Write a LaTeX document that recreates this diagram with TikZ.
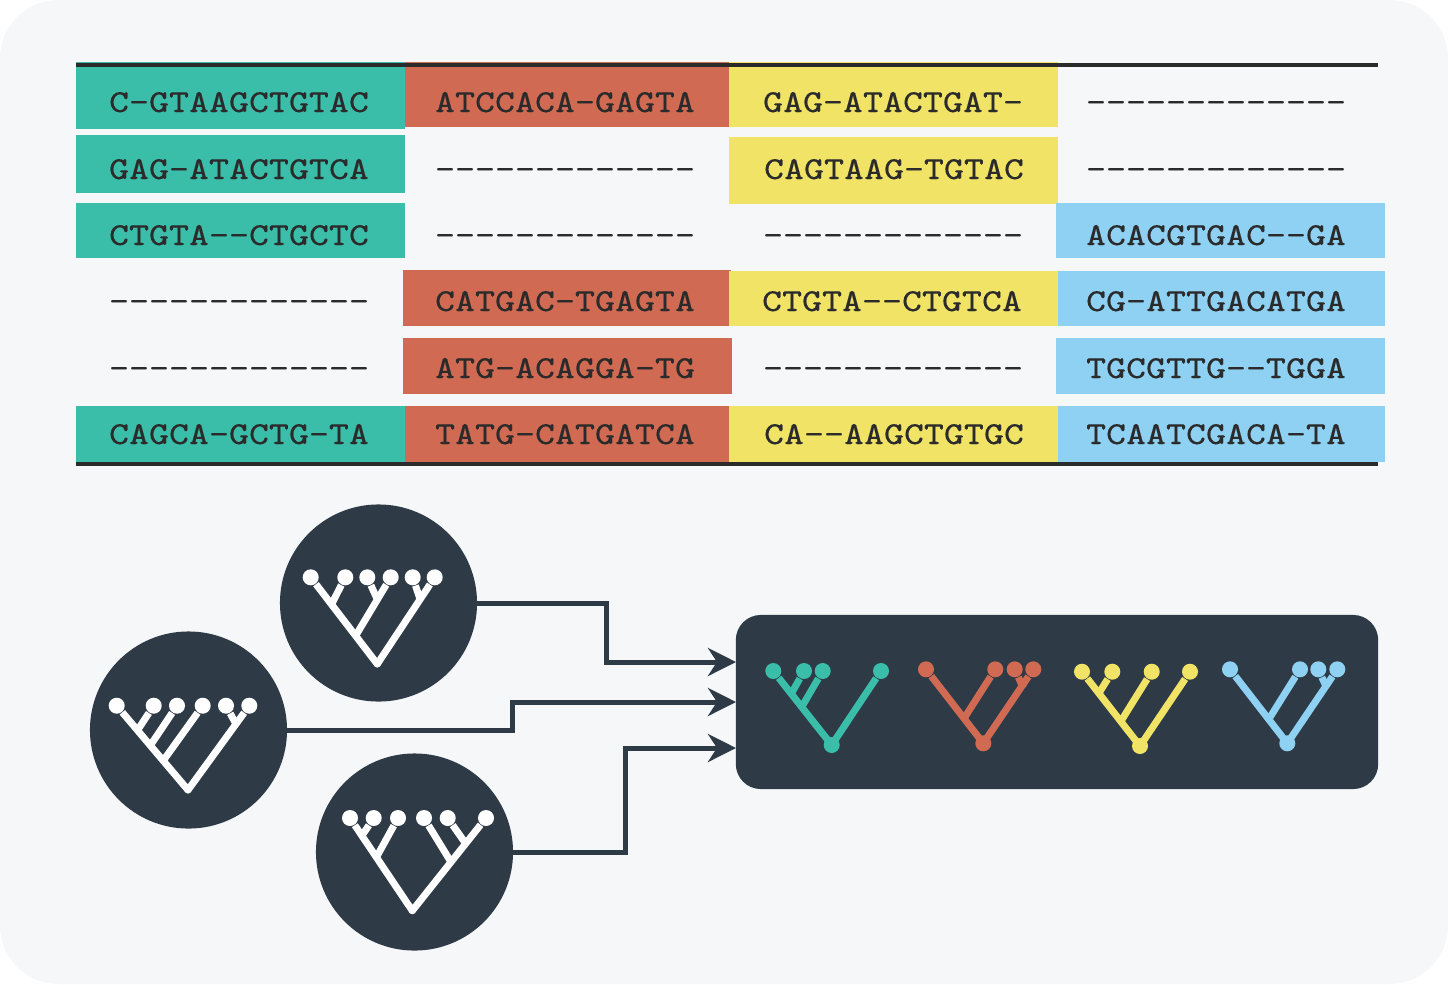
\documentclass[tikz,border=0pt]{standalone}
\usepackage{fontspec}
\usetikzlibrary{arrows.meta}
\newfontfamily\seqfont{Latin Modern Mono}[FakeStretch=1.19,FakeBold=.2]
\definecolor{pagebg}{HTML}{F5F7F9}
\definecolor{inkdark}{HTML}{2B2B2B}
\definecolor{slate}{HTML}{2E3B46}
\definecolor{seqteal}{HTML}{3ABDA9}
\definecolor{seqred}{HTML}{D06A53}
\definecolor{seqyellow}{HTML}{F0E366}
\definecolor{seqblue}{HTML}{8FD1F3}
\tikzset{
    seq/.style={anchor=base,inner sep=0pt,text=inkdark,font=\seqfont\fontsize{9.1pt}{11pt}\selectfont},
    disc/.style={circle,fill=slate,inner sep=0pt,outer sep=0pt,minimum size=1.97cm},
    panel/.style={rectangle,fill=slate,rounded corners=.25cm,inner sep=0pt,minimum width=6.42cm,minimum height=1.74cm},
    link/.style={draw=slate,line width=.05cm,-{Stealth[length=.28cm,width=.28cm,inset=.09cm]}},
    tip/.style={circle,fill=#1,inner sep=0pt,minimum size=.16cm},
    base/.style={circle,fill=#1,inner sep=0pt,minimum size=.16cm},
    limb/.style={draw=#1,line width=.07cm,line join=round}
}
\begin{document}
\begin{tikzpicture}[x=.01cm,y=-.01cm]
                \useasboundingbox (0,0) rectangle (1448,984);
                \fill [pagebg,rounded corners=.58cm] (0,0) rectangle (1448,984);
                \fill [seqteal] (76,62) rectangle (405,129);
                \fill [seqteal] (76,135) rectangle (405,193);
                \fill [seqteal] (76,203) rectangle (405,258);
                \fill [seqteal] (76,406) rectangle (405,462);
                \fill [seqred] (405,62) rectangle (729,127);
                \fill [seqred] (403,270) rectangle (731,326);
                \fill [seqred] (403,338) rectangle (732,394);
                \fill [seqred] (405,406) rectangle (729,462);
                \fill [seqyellow] (729,62) rectangle (1058,127);
                \fill [seqyellow] (729,137) rectangle (1058,204);
                \fill [seqyellow] (729,271) rectangle (1058,326);
                \fill [seqyellow] (729,406) rectangle (1058,462);
                \fill [seqblue] (1056,203) rectangle (1385,258);
                \fill [seqblue] (1058,271) rectangle (1385,326);
                \fill [seqblue] (1056,338) rectangle (1385,394);
                \fill [seqblue] (1058,406) rectangle (1385,462);
                \draw [inkdark,line width=.04cm] (76,65) -- (1378,65);
                \draw [inkdark,line width=.04cm] (76,464) -- (1378,464);
                \node [seq] (s11) at (239,112) {C-GTAAGCTGTAC};
                \node [seq] (s12) at (565,112) {ATCCACA-GAGTA};
                \node [seq] (s13) at (893,112) {GAG-ATACTGAT-};
                \node [seq] (s14) at (1216,112) {-------------};
                \node [seq] (s21) at (239,179) {GAG-ATACTGTCA};
                \node [seq] (s22) at (565,179) {-------------};
                \node [seq] (s23) at (894,179) {CAGTAAG-TGTAC};
                \node [seq] (s24) at (1216,179) {-------------};
                \node [seq] (s31) at (239,245) {CTGTA--CTGCTC};
                \node [seq] (s32) at (565,245) {-------------};
                \node [seq] (s33) at (893,245) {-------------};
                \node [seq] (s34) at (1216,245) {ACACGTGAC--GA};
                \node [seq] (s41) at (239,311) {-------------};
                \node [seq] (s42) at (565,311) {CATGAC-TGAGTA};
                \node [seq] (s43) at (892,311) {CTGTA--CTGTCA};
                \node [seq] (s44) at (1216,311) {CG-ATTGACATGA};
                \node [seq] (s51) at (239,378) {-------------};
                \node [seq] (s52) at (565,378) {ATG-ACAGGA-TG};
                \node [seq] (s53) at (893,378) {-------------};
                \node [seq] (s54) at (1216,378) {TGCGTTG--TGGA};
                \node [seq] (s61) at (239,444) {CAGCA-GCTG-TA};
                \node [seq] (s62) at (565,444) {TATG-CATGATCA};
                \node [seq] (s63) at (894,444) {CA--AAGCTGTGC};
                \node [seq] (s64) at (1216,444) {TCAATCGACA-TA};
                \node [disc] (treea) at (378.5,603) {};
                \node [disc] (treeb) at (188.5,730) {};
                \node [disc] (treec) at (414.5,852) {};
                \node [panel] (genes) at (1057,702) {};
                \coordinate (benda) at (606,662);
                \coordinate (bendb) at (512,702);
                \coordinate (bendc) at (625,748);
                \coordinate (ina) at (736,662);
                \coordinate (inb) at (736,702);
                \coordinate (inc) at (736,748);
                \draw [link] (treea.east) -| (benda) -- (ina);
                \draw [link] (treeb.east) -| (bendb) -- (inb);
                \draw [link] (treec.east) -| (bendc) -- (inc);
                \path (310.7,577.3) node [tip=white] (a1) {} (345.3,577.3) node [tip=white] (a2) {} (367.3,577.3) node [tip=white] (a3) {}
                    (390.7,577.3) node [tip=white] (a4) {} (412.7,577.3) node [tip=white] (a5) {} (434.7,577.3) node [tip=white] (a6) {}
                    (377.3,664) node [base=white,minimum size=.07cm] (ar) {};
                \path (331.7,604) coordinate (aj2) (356.7,634) coordinate (aj4) (376.7,598) coordinate (aj3) (420,599) coordinate (aj5);
                \draw [limb=white] (a1) -- (ar.center) -- (a6);
                \draw [limb=white] (a2) -- (aj2);
                \draw [limb=white] (a4) -- (aj4);
                \draw [limb=white] (a3) -- (aj3);
                \draw [limb=white] (a5) -- (aj5);
                \path (116.7,705.7) node [tip=white] (b1) {} (153.7,705.7) node [tip=white] (b2) {} (177,705.7) node [tip=white] (b3) {}
                    (202.7,705.7) node [tip=white] (b4) {} (226,705.7) node [tip=white] (b5) {} (249.3,705.7) node [tip=white] (b6) {}
                    (188,790) node [base=white,minimum size=.07cm] (br) {};
                \path (137,731) coordinate (bj2) (150,746) coordinate (bj3) (163,761) coordinate (bj4) (236,724) coordinate (bj5);
                \draw [limb=white] (b1) -- (br.center) -- (b6);
                \draw [limb=white] (b2) -- (bj2);
                \draw [limb=white] (b3) -- (bj3);
                \draw [limb=white] (b4) -- (bj4);
                \draw [limb=white] (b5) -- (bj5);
                \path (350,818) node [tip=white] (c1) {} (373.7,818) node [tip=white] (c2) {} (398,818) node [tip=white] (c3) {}
                    (424,818) node [tip=white] (c4) {} (447.7,818) node [tip=white] (c5) {} (486,818) node [tip=white] (c6) {}
                    (412.3,910.7) node [base=white,minimum size=.07cm] (cr) {};
                \path (361.7,836) coordinate (cj2) (376,858) coordinate (cj3) (451,862) coordinate (cj4) (466,844) coordinate (cj5);
                \draw [limb=white] (c1) -- (cr.center) -- (c6);
                \draw [limb=white] (c2) -- (cj2);
                \draw [limb=white] (c3) -- (cj3);
                \draw [limb=white] (c4) -- (cj4);
                \draw [limb=white] (c5) -- (cj5);
                \path (773.3,671) node [tip=seqteal] (d1) {} (804,671) node [tip=seqteal] (d2) {} (822.7,671) node [tip=seqteal] (d3) {}
                    (881,671) node [tip=seqteal] (d4) {} (831.7,745) node [base=seqteal] (dr) {};
                \path (791.7,693) coordinate (dj2) (801.7,707) coordinate (dj3);
                \draw [limb=seqteal] (d1) -- (dr.center) -- (d4);
                \draw [limb=seqteal] (d2) -- (dj2);
                \draw [limb=seqteal] (d3) -- (dj3);
                \path (926,669.3) node [tip=seqred] (e1) {} (995.3,669.3) node [tip=seqred] (e2) {} (1014.7,669.3) node [tip=seqred] (e3) {}
                    (1033.3,669.3) node [tip=seqred] (e4) {} (983.3,743.3) node [base=seqred] (er) {};
                \path (964.3,718) coordinate (ej2) (1023.3,688) coordinate (ej3);
                \draw [limb=seqred] (e1) -- (er.center) -- (e4);
                \draw [limb=seqred] (e2) -- (ej2);
                \draw [limb=seqred] (e3) -- (ej3);
                \path (1082,671.7) node [tip=seqyellow] (f1) {} (1112.3,671.7) node [tip=seqyellow] (f2) {} (1151.7,671.7) node [tip=seqyellow] (f3) {}
                    (1190,671.7) node [tip=seqyellow] (f4) {} (1140,746) node [base=seqyellow] (fr) {};
                \path (1099,693) coordinate (fj2) (1121.7,720) coordinate (fj3);
                \draw [limb=seqyellow] (f1) -- (fr.center) -- (f4);
                \draw [limb=seqyellow] (f2) -- (fj2);
                \draw [limb=seqyellow] (f3) -- (fj3);
                \path (1230,669.3) node [tip=seqblue] (g1) {} (1300,669.3) node [tip=seqblue] (g2) {} (1318.3,669.3) node [tip=seqblue] (g3) {}
                    (1337.3,669.3) node [tip=seqblue] (g4) {} (1287.3,743.3) node [base=seqblue] (gr) {};
                \path (1268.3,720) coordinate (gj2) (1326.7,688) coordinate (gj3);
                \draw [limb=seqblue] (g1) -- (gr.center) -- (g4);
                \draw [limb=seqblue] (g2) -- (gj2);
                \draw [limb=seqblue] (g3) -- (gj3);
            \end{tikzpicture}
\end{document}
